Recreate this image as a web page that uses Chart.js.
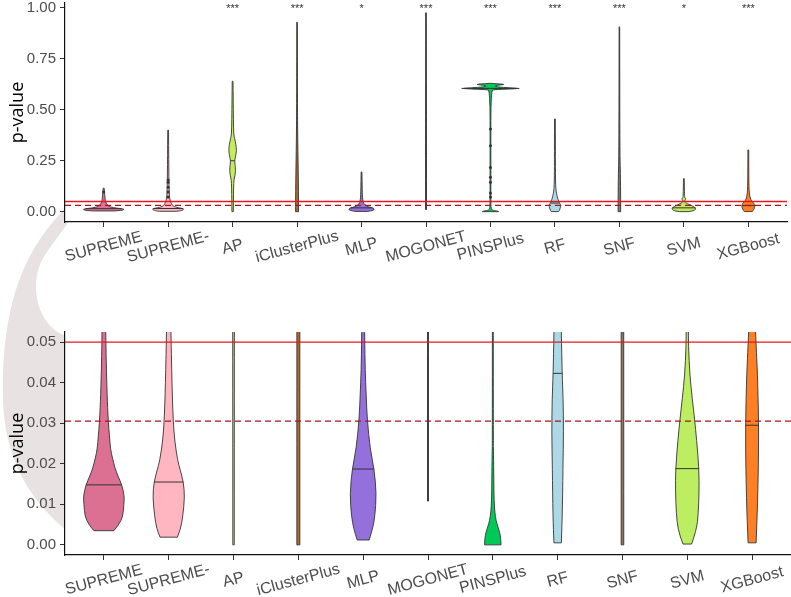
<!DOCTYPE html>
<html>
<head>
<meta charset="utf-8">
<script src="https://cdn.jsdelivr.net/npm/chart.js@4.4.0/dist/chart.umd.min.js"></script>
<style>
body{margin:0;background:#fff;width:791px;height:597px;overflow:hidden;position:relative}
#zoomBand{position:absolute;left:0;top:0}
#topChart{position:absolute;left:0;top:-10px}
#bottomChart{position:absolute;left:0;top:300px}
</style>
</head>
<body>
<svg id="zoomBand" width="791" height="597">
  <path d="M 68 205 C 40 235, 0 280, 3 400 C 5 460, 30 500, 66 530 L 66 336 C 35 325, 28 280, 45 255 C 55 240, 65 228, 80 205 Z" fill="#e9e2e2"/>
</svg>
<canvas id="topChart" width="791" height="310"></canvas>
<canvas id="bottomChart" width="791" height="297"></canvas>
<script>
var categories = ['SUPREME', 'SUPREME-', 'AP', 'iClusterPlus', 'MLP', 'MOGONET', 'PINSPlus', 'RF', 'SNF', 'SVM', 'XGBoost'];
var stars = ['', '', '***', '***', '*', '***', '***', '***', '***', '*', '***'];
var medians = [0.0148, 0.0155, 0.25, null, 0.0187, null, 0.605, 0.0423, null, 0.0188, 0.0295];
var topTicks = [0, 0.25, 0.5, 0.75, 1];
var bottomTicks = [0, 0.01, 0.02, 0.03, 0.04, 0.05];
var cutSolid = 0.05;
var cutDashed = 0.0305;

// violin outlines: [p-value, half width of the density]
var violinSUPREME = [[0.0035,10],[0.005,15],[0.007,19],[0.01,20],[0.012,20.5],[0.0148,18],[0.017,14],[0.019,11],[0.0215,8.5],[0.0235,6.7],[0.027,5.5],[0.03,4.5],[0.035,3.5],[0.043,2.5],[0.05,2],[0.06,1.5],[0.08,1.1],[0.1,0.8],[0.115,0.5]];
var violinSUPREMEminus = [[0.0019,8.7],[0.004,12],[0.0069,14],[0.0118,16],[0.0155,14.7],[0.0185,11.5],[0.0207,9],[0.0256,6],[0.0305,4.5],[0.037,3.6],[0.043,3],[0.051,2.3],[0.065,1.6],[0.09,1.1],[0.15,0.8],[0.25,0.6],[0.4,0.4]];
var violinAP = [[0,0.7],[0.05,0.8],[0.12,1],[0.155,1.3],[0.175,2.3],[0.203,3],[0.228,2.5],[0.25,2],[0.272,3],[0.3,4],[0.33,3.3],[0.36,2],[0.38,1.1],[0.45,0.8],[0.55,0.6],[0.64,0.4]];
var violinIClusterPlus = [[0,1.5],[0.05,1.5],[0.15,1.3],[0.25,1],[0.35,0.7],[0.5,0.4],[0.93,0.3]];
var violinMLP = [[0.0012,6],[0.004,9.5],[0.007,11.7],[0.0125,13.3],[0.0187,11],[0.0236,7],[0.031,4],[0.037,3],[0.043,2],[0.051,1.5],[0.07,1],[0.1,0.7],[0.195,0.4]];
var violinMOGONET = [[0.0108,0.5],[0.3,0.5],[0.976,0.3]];
var violinPINSPlus = [[0,8.2],[0.0015,8],[0.003,7],[0.0045,5],[0.006,3.2],[0.008,2],[0.011,1.2],[0.016,1],[0.0226,0.7],[0.026,0.4],[0.3,0.4],[0.595,0.4],[0.599,4],[0.602,20],[0.605,29],[0.608,20],[0.612,6],[0.618,4],[0.622,10],[0.625,15],[0.628,6],[0.63,0.3]];
var violinRF = [[0.0005,3.7],[0.007,4.7],[0.019,5.3],[0.028,5.9],[0.036,5.5],[0.0423,4.5],[0.052,3.7],[0.065,2.8],[0.08,2],[0.1,1.2],[0.13,0.7],[0.2,0.5],[0.455,0.4]];
var violinSNF = [[0,1.3],[0.05,1.3],[0.2,1],[0.25,0.6],[0.5,0.4],[0.907,0.3]];
var violinSVM = [[0.0002,4.3],[0.0037,9.3],[0.0078,11],[0.013,11.8],[0.0188,11.7],[0.026,9.3],[0.031,7.3],[0.036,5],[0.042,2.5],[0.049,1.2],[0.055,1],[0.06,1.8],[0.064,2],[0.068,1],[0.08,0.6],[0.162,0.4]];
var violinXGBoost = [[0.0005,4],[0.011,5.7],[0.027,6.7],[0.04,5.7],[0.048,4.3],[0.052,3.5],[0.06,2.5],[0.075,1.5],[0.1,0.8],[0.15,0.5],[0.303,0.4]];

var outlierGroup = ['SUPREME','SUPREME-','SUPREME-','SUPREME-','SUPREME-','SUPREME-','PINSPlus','PINSPlus','PINSPlus','PINSPlus','PINSPlus','PINSPlus','PINSPlus'];
var outlierValue = [0.097, 0.072, 0.097, 0.12, 0.145, 0.155, 0.072, 0.092, 0.145, 0.169, 0.217, 0.324, 0.406];

var violins = [violinSUPREME, violinSUPREMEminus, violinAP, violinIClusterPlus, violinMLP, violinMOGONET, violinPINSPlus, violinRF, violinSNF, violinSVM, violinXGBoost];
var fills = ['#db7093','#ffb6c1','#c5ec5e','#b5652a','#9370db','#4a4a4a','#00c957','#add8e6','#8b7765','#bdee62','#ff7f24'];

function halfWidthAt(prof, v) {
    for (var i = 1; i < prof.length; i++) {
        if (v <= prof[i][0]) {
            var t = (v - prof[i-1][0]) / (prof[i][0] - prof[i-1][0]);
            return prof[i-1][1] + t * (prof[i][1] - prof[i-1][1]);
        }
    }
    return 0;
}

function smoothSide(ctx, pts) {
    ctx.lineTo(pts[0][0], pts[0][1]);
    for (var i = 1; i < pts.length - 1; i++) {
        var mx = (pts[i][0] + pts[i+1][0]) / 2, my = (pts[i][1] + pts[i+1][1]) / 2;
        ctx.quadraticCurveTo(pts[i][0], pts[i][1], mx, my);
    }
    ctx.lineTo(pts[pts.length-1][0], pts[pts.length-1][1]);
}

var violinPlugin = {
    id: 'violins',
    beforeDraw: function(chart) {
        var a = chart.chartArea, ctx = chart.ctx;
        ctx.save();
        ctx.fillStyle = '#fff';
        ctx.fillRect(a.left, a.top, a.right - a.left, a.bottom - a.top);
        ctx.restore();
    },
    beforeDatasetsDraw: function(chart) {
        var ctx = chart.ctx, a = chart.chartArea, xs = chart.scales.x, ys = chart.scales.y;
        var k = (xs.getPixelForValue(1) - xs.getPixelForValue(0)) / 64.8;
        ctx.save();
        ctx.beginPath();
        ctx.rect(a.left, a.top, a.right - a.left, a.bottom - a.top);
        ctx.clip();
        for (var i = 0; i < violins.length; i++) {
            var prof = violins[i];
            var cx = xs.getPixelForValue(i);
            var right = prof.map(function(p) { return [cx + p[1] * k, ys.getPixelForValue(p[0])]; });
            var left = prof.map(function(p) { return [cx - p[1] * k, ys.getPixelForValue(p[0])]; }).reverse();
            ctx.beginPath();
            ctx.moveTo(right[0][0], right[0][1]);
            smoothSide(ctx, right);
            smoothSide(ctx, left);
            ctx.closePath();
            ctx.fillStyle = fills[i];
            ctx.fill();
            ctx.strokeStyle = '#333';
            ctx.lineWidth = 0.9;
            ctx.stroke();
            if (medians[i] !== null) {
                var w = halfWidthAt(prof, medians[i]) * k;
                var my = ys.getPixelForValue(medians[i]);
                ctx.beginPath();
                ctx.moveTo(cx - w, my);
                ctx.lineTo(cx + w, my);
                ctx.lineWidth = 1;
                ctx.stroke();
            }
        }
        ctx.restore();
    },
    afterDatasetsDraw: function(chart) {
        var ctx = chart.ctx, a = chart.chartArea, ys = chart.scales.y;
        ctx.save();
        ctx.lineWidth = 1.3;
        ctx.strokeStyle = '#e3191c';
        var y1 = ys.getPixelForValue(cutSolid);
        ctx.beginPath(); ctx.moveTo(a.left, y1); ctx.lineTo(a.right, y1); ctx.stroke();
        ctx.strokeStyle = '#a8141e';
        ctx.setLineDash([6, 4]);
        var y2 = ys.getPixelForValue(cutDashed);
        ctx.beginPath(); ctx.moveTo(a.left, y2); ctx.lineTo(a.right, y2); ctx.stroke();
        ctx.restore();
    },
    afterDraw: function(chart) {
        var ctx = chart.ctx, a = chart.chartArea, xs = chart.scales.x;
        ctx.save();
        ctx.fillStyle = '#4d4d4d';
        ctx.font = '16px "Liberation Sans", Arial, sans-serif';
        ctx.textAlign = 'center';
        ctx.textBaseline = 'middle';
        for (var i = 0; i < categories.length; i++) {
            ctx.save();
            ctx.translate(xs.getPixelForValue(i), a.bottom + 25);
            ctx.rotate(-15 * Math.PI / 180);
            ctx.fillText(categories[i], 0, 0);
            ctx.restore();
        }
        if (chart.options.showStars) {
            ctx.fillStyle = '#333';
            ctx.font = '11px "Liberation Sans", Arial, sans-serif';
            ctx.textBaseline = 'top';
            for (var j = 0; j < categories.length; j++) {
                ctx.fillText(stars[j], xs.getPixelForValue(j), a.top);
            }
        }
        ctx.fillStyle = '#000';
        ctx.font = '18px "Open Sans", sans-serif';
        ctx.textBaseline = 'middle';
        ctx.translate(18, (a.top + a.bottom) / 2);
        ctx.rotate(-Math.PI / 2);
        ctx.fillText('p-value', 0, 0);
        ctx.restore();
    }
};

function makeOptions(yMin, yMax, ticks, padTop, xHeight, stars) {
    return {
        responsive: false,
        animation: false,
        showStars: stars,
        layout: { padding: { top: padTop, left: 0, right: 0, bottom: 0 } },
        plugins: { legend: { display: false }, tooltip: { enabled: false } },
        scales: {
            x: {
                type: 'linear', min: -0.6, max: categories.length - 0.4,
                afterBuildTicks: function(s) { s.ticks = categories.map(function(c, i) { return { value: i }; }); },
                ticks: { display: false },
                grid: { drawOnChartArea: false, tickLength: 5, tickColor: '#333' },
                border: { color: '#111', width: 1.2 },
                afterFit: function(s) { s.height = xHeight; }
            },
            y: {
                min: yMin, max: yMax,
                afterBuildTicks: function(s) { s.ticks = ticks.map(function(v) { return { value: v }; }); },
                ticks: {
                    callback: function(v) { return v.toFixed(2); },
                    color: '#4d4d4d', padding: 4,
                    font: { size: 15, family: '"Liberation Sans", Arial, sans-serif' }
                },
                grid: { drawOnChartArea: false, tickLength: 5, tickColor: '#333' },
                border: { color: '#111', width: 1.2 },
                afterFit: function(s) { s.width = 65; }
            }
        }
    };
}

var points = outlierGroup.map(function(g, i) { return { x: categories.indexOf(g), y: outlierValue[i] }; });

new Chart(document.getElementById('topChart').getContext('2d'), {
    type: 'scatter',
    data: { datasets: [{ data: points, pointRadius: 1.5, pointBackgroundColor: '#333', pointBorderWidth: 0 }] },
    options: makeOptions(-0.0507, 1.0242, topTicks, 10, 78, true),
    plugins: [violinPlugin]
});

new Chart(document.getElementById('bottomChart').getContext('2d'), {
    type: 'scatter',
    data: { datasets: [{ data: [] }] },
    options: makeOptions(-0.0025, 0.0525, bottomTicks, 32, 42, false),
    plugins: [violinPlugin]
});
</script>
</body>
</html>
